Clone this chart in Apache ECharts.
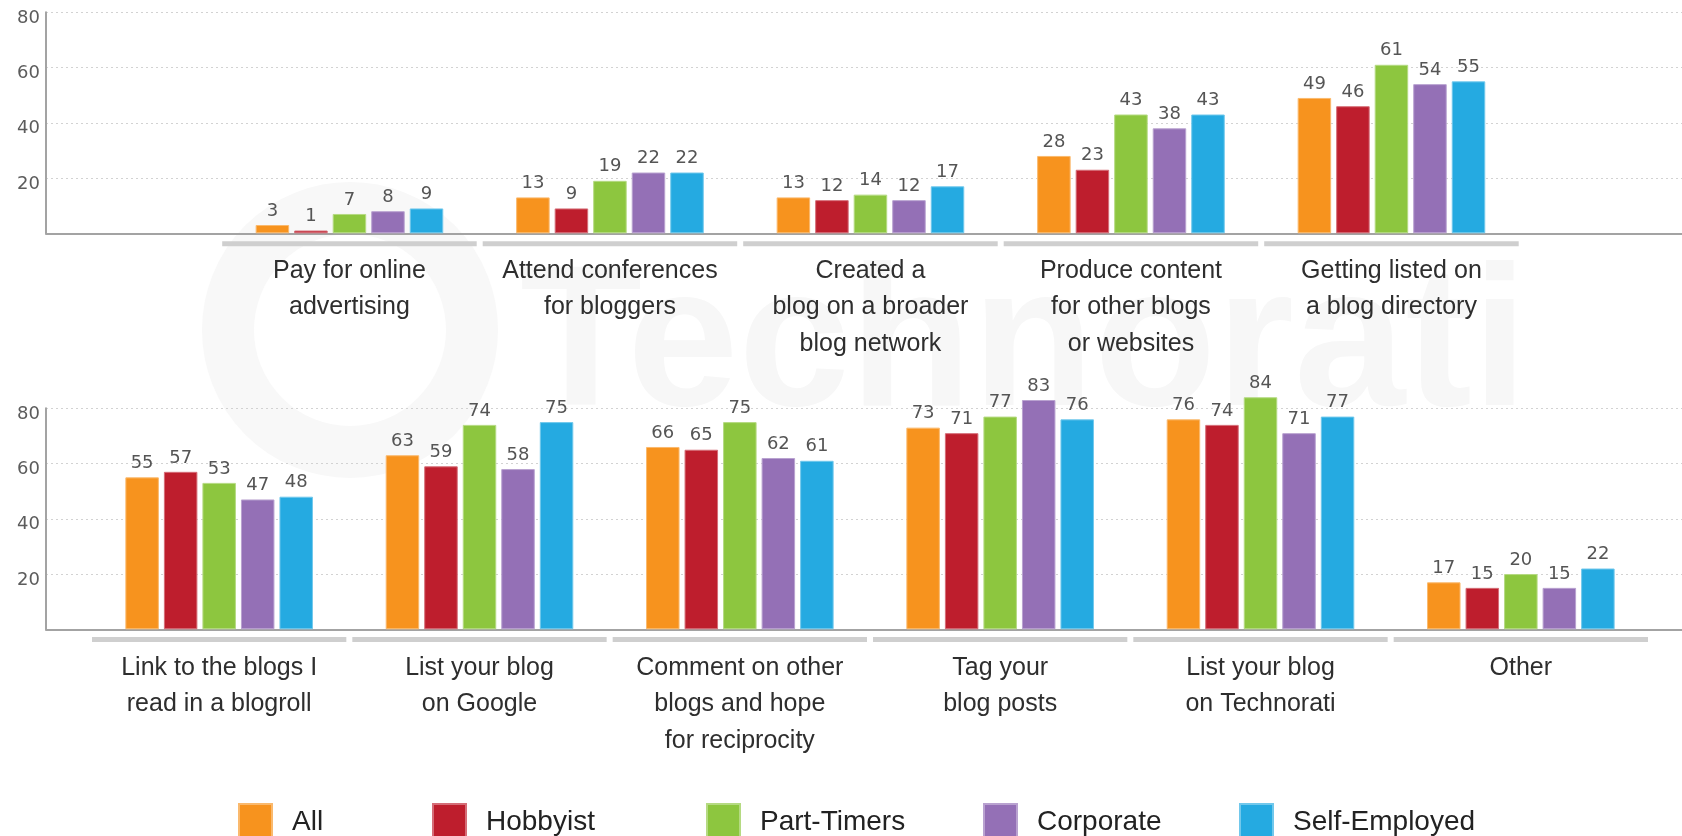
<!DOCTYPE html>
<html>
<head>
<meta charset="utf-8">
<title>How bloggers promote their blogs</title>
<script src="https://cdn.jsdelivr.net/npm/echarts@6/dist/echarts.min.js"></script>
<style>
  html, body { margin: 0; padding: 0; background: #ffffff; }
  #chart { width: 1682px; height: 836px; }
</style>
</head>
<body>
<div id="chart"></div>
<script>
// Categories for the two panels
const topCategories = [
  'Pay for online\nadvertising',
  'Attend conferences\nfor bloggers',
  'Created a\nblog on a broader\nblog network',
  'Produce content\nfor other blogs\nor websites',
  'Getting listed on\na blog directory'
];
const bottomCategories = [
  'Link to the blogs I\nread in a blogroll',
  'List your blog\non Google',
  'Comment on other\nblogs and hope\nfor reciprocity',
  'Tag your\nblog posts',
  'List your blog\non Technorati',
  'Other'
];

// Respondent groups
const groupNames = ['All', 'Hobbyist', 'Part-Timers', 'Corporate', 'Self-Employed'];
const groupColors = ['#F7931E', '#BE1E2D', '#8DC63F', '#9470B6', '#25AAE1'];

// Percentages, upper panel
const allTop          = [3, 13, 13, 28, 49];
const hobbyistTop     = [1, 9, 12, 23, 46];
const partTimersTop   = [7, 19, 14, 43, 61];
const corporateTop    = [8, 22, 12, 38, 54];
const selfEmployedTop = [9, 22, 17, 43, 55];

// Percentages, lower panel
const allBottom          = [55, 63, 66, 73, 76, 17];
const hobbyistBottom     = [57, 59, 65, 71, 74, 15];
const partTimersBottom   = [53, 74, 75, 77, 84, 20];
const corporateBottom    = [47, 58, 62, 83, 71, 15];
const selfEmployedBottom = [48, 75, 61, 76, 77, 22];

// Value axis ticks
const yMin = 0, yMax = 80, yStep = 20;

const topSeriesData = [allTop, hobbyistTop, partTimersTop, corporateTop, selfEmployedTop];
const bottomSeriesData = [allBottom, hobbyistBottom, partTimersBottom, corporateBottom, selfEmployedBottom];

const AXIS_GRAY = '#a3a3a3';

function lighten(hex, t) {
  const n = parseInt(hex.slice(1), 16);
  const r = (n >> 16) & 255, g = (n >> 8) & 255, b = n & 255;
  const m = c => Math.round(c + (255 - c) * t);
  return 'rgb(' + m(r) + ',' + m(g) + ',' + m(b) + ')';
}

// One panel = frame grid (axes + gridlines), bar grid, thin separator strip grid
function panel(idx, top, barLeft, barWidth, categories, labelMargin, stripTop) {
  const grids = [
    { left: 46, right: 0, top: top, height: 221 },
    { left: barLeft, width: barWidth, top: top, height: 221 },
    { left: barLeft, width: barWidth, top: stripTop, height: 5 }
  ];
  const xAxes = [
    {
      gridIndex: idx, type: 'value', min: 0, max: 1, offset: 2.7,
      axisLine: { show: true, lineStyle: { color: AXIS_GRAY, width: 2 } },
      axisTick: { show: false }, axisLabel: { show: false }, splitLine: { show: false }
    },
    {
      gridIndex: idx + 1, type: 'category', data: categories,
      axisLine: { show: false }, axisTick: { show: false },
      axisLabel: {
        interval: 0, margin: labelMargin, fontSize: 25, lineHeight: 36.5,
        fontFamily: 'Liberation Sans, Arial, sans-serif', color: '#2e2e2e'
      }
    },
    { gridIndex: idx + 2, type: 'category', data: categories, show: false }
  ];
  const yAxes = [
    {
      gridIndex: idx, type: 'value', min: yMin, max: yMax, interval: yStep,
      axisLine: { show: true, lineStyle: { color: AXIS_GRAY, width: 2 } },
      axisTick: { show: false },
      axisLabel: {
        margin: 6, fontSize: 18, fontFamily: 'DejaVu Sans, sans-serif', color: '#5c5c5c',
        verticalAlign: 'top', lineHeight: 12,
        formatter: v => (v === 0 ? '' : String(v))
      },
      splitLine: { show: true, showMinLine: false, lineStyle: { color: '#d2d2d2', type: [2, 3], width: 1 } }
    },
    { gridIndex: idx + 1, type: 'value', min: yMin, max: yMax, interval: yStep, show: false },
    { gridIndex: idx + 2, type: 'value', min: 0, max: 1, show: false }
  ];
  return { grids, xAxes, yAxes };
}

const topPanel = panel(0, 12.3, 219.2, 1302.5, topCategories, 19.5, 241.3);
const bottomPanel = panel(3, 408.3, 89, 1562, bottomCategories, 20.5, 637);

function barSeries(data, axisIdx) {
  return groupNames.map((name, i) => ({
    name: name,
    type: 'bar',
    xAxisIndex: axisIdx, yAxisIndex: axisIdx,
    data: data[i],
    barWidth: 33.5,
    barGap: '15%',
    clip: false,
    itemStyle: { color: groupColors[i], borderColor: lighten(groupColors[i], 0.35), borderWidth: 1 },
    label: {
      show: true, position: 'top', distance: 5,
      fontFamily: 'DejaVu Sans, sans-serif', fontSize: 18, color: '#555'
    }
  }));
}

function stripSeries(categories, axisIdx) {
  return {
    name: 'band', type: 'bar', silent: true,
    xAxisIndex: axisIdx, yAxisIndex: axisIdx,
    data: categories.map(() => 1),
    barCategoryGap: '2.3%',
    itemStyle: { color: '#cfcfcf' },
    label: { show: false }
  };
}

const legendLeft = [238, 432, 706, 983, 1239];
const legends = groupNames.map((name, i) => ({
  data: [name],
  left: legendLeft[i], top: 803,
  padding: 0, itemGap: 0,
  itemWidth: 33, itemHeight: 36, icon: 'rect',
  selectedMode: false,
  textStyle: {
    fontSize: 28, fontFamily: 'Liberation Sans, Arial, sans-serif', color: '#222',
    padding: [0, 0, 0, 15]
  }
}));

const option = {
  backgroundColor: '#ffffff',
  animation: false,
  graphic: [
    {
      type: 'circle', z: -10, silent: true,
      shape: { cx: 350, cy: 330, r: 122 },
      style: { fill: 'none', stroke: '#f8f8f8', lineWidth: 52 }
    },
    {
      type: 'text', z: -10, silent: true,
      style: {
        text: 'Technorati', x: 520, y: 350,
        font: 'bold 200px "Liberation Sans", Arial, sans-serif',
        fill: '#f7f7f7', verticalAlign: 'middle'
      }
    }
  ],
  legend: legends,
  grid: topPanel.grids.concat(bottomPanel.grids),
  xAxis: topPanel.xAxes.concat(bottomPanel.xAxes),
  yAxis: topPanel.yAxes.concat(bottomPanel.yAxes),
  series: []
    .concat(barSeries(topSeriesData, 1))
    .concat([stripSeries(topCategories, 2)])
    .concat(barSeries(bottomSeriesData, 4))
    .concat([stripSeries(bottomCategories, 5)])
};

const chart = echarts.init(document.getElementById('chart'), null, { renderer: 'canvas' });
chart.setOption(option);
</script>
</body>
</html>
